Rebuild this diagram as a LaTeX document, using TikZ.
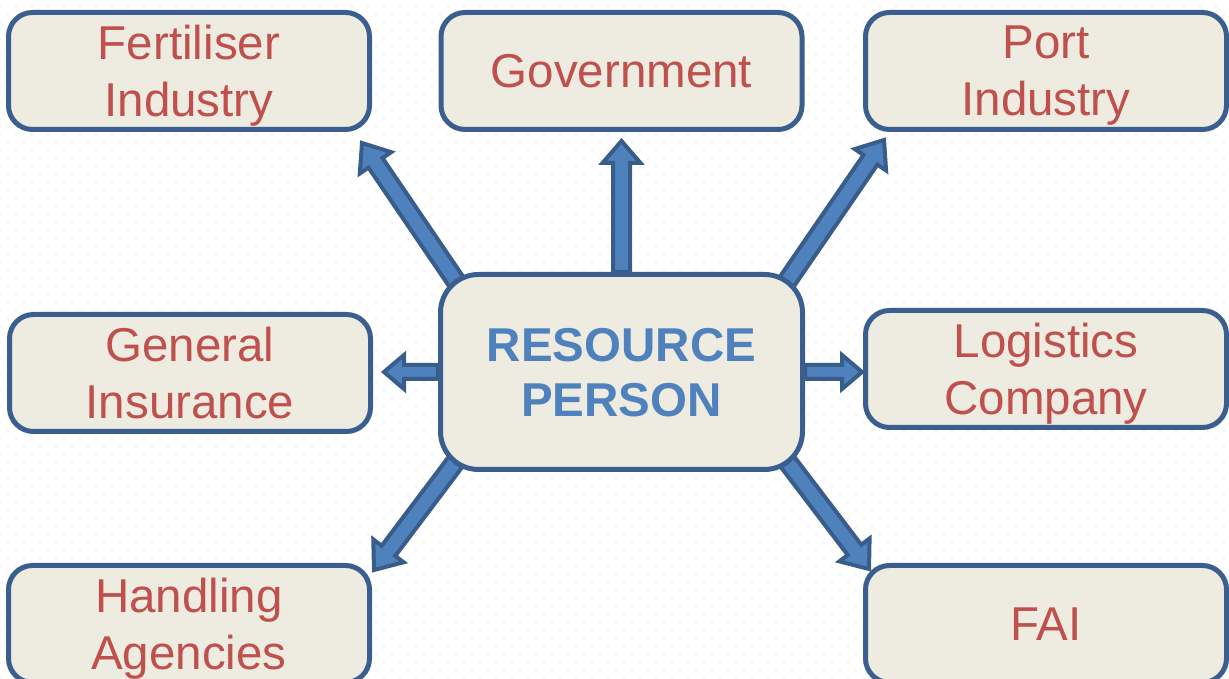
\documentclass[tikz,border=0pt]{standalone}
\usepackage{fontspec}
\setmainfont{Liberation Sans}
\usetikzlibrary{calc,backgrounds,patterns.meta}

\definecolor{boxline}{HTML}{3A5F8F}
\definecolor{boxfill}{HTML}{EEEBE0}
\definecolor{boxtext}{HTML}{C0504D}
\definecolor{midtext}{HTML}{4F81BD}
\definecolor{arrfill}{HTML}{4F81BD}
\definecolor{arrline}{HTML}{385D8A}
\definecolor{dotcol}{HTML}{E9E7DC}

\tikzdeclarepattern{
  name=bgdots,
  type=uncolored,
  bounding box={(-1pt,-1pt) and (15pt,15pt)},
  tile size={(16pt,16pt)},
  code={\fill (0pt,0pt) circle (0.9pt); \fill (8pt,8pt) circle (0.9pt);}
}

% block arrow: tail, tip, shaft half width, head half width, head length
\newcommand\blockarrow[5]{%
  \path (#1) coordinate (A) (#2) coordinate (B);
  \path ($(B)!#5!(A)$) coordinate (C);
  \draw[blockarr]
    ($(A)!#3!90:(B)$) -- ($(C)!#3!-90:(A)$) -- ($(C)!#4!-90:(A)$) -- (B)
    -- ($(C)!#4!90:(A)$) -- ($(C)!#3!90:(A)$) -- ($(A)!#3!-90:(B)$) -- cycle;
}

\begin{document}
\begin{tikzpicture}[x=1pt,y=1pt,
    sidebox/.style={draw=boxline, fill=boxfill, line width=5pt,
        rounded corners=24pt, minimum width=361pt, minimum height=117pt,
        align=center, text=boxtext, text depth=0pt,
        font=\fontsize{47.5}{57}\selectfont},
    centrebox/.style={sidebox, rounded corners=38pt, minimum width=362pt,
        minimum height=195pt, text=midtext,
        font=\fontsize{47.5}{55}\selectfont\bfseries},
    blockarr/.style={fill=arrfill, draw=arrline, line width=4pt,
        line join=miter}]

\useasboundingbox (0,0) rectangle (1229,679);
\clip (0,0) rectangle (1229,679);

% the boxes
\node[centrebox] (rp) at (621.5,307) {RESOURCE\\PERSON};

\node[sidebox] (fert) at (189,608) {Fertiliser\\Industry};
\node[sidebox] (gov)  at (621.5,608) {Government};
\node[sidebox] (port) at (1046,608) {Port\\Industry};

\node[sidebox] (ins) at (190,306) {General\\Insurance};
\node[sidebox] (log) at (1046,310) {Logistics\\Company};

\node[sidebox] (hand) at (189,55) {Handling\\Agencies};
\node[sidebox] (fai)  at (1046,55) {FAI};

% the arrows, under the boxes
\begin{scope}[on background layer]
\fill[pattern=bgdots, pattern color=dotcol] (0,0) rectangle (1229,679);
\blockarrow{rp.north}{$(gov.south)+(0,-9)$}{8.5pt}{19pt}{22pt}
\blockarrow{rp.west}{$(ins.east |- rp.west)+(11,0)$}{7pt}{17pt}{20pt}
\blockarrow{rp.east}{$(log.west |- rp.east)+(-1,0)$}{7pt}{17pt}{20pt}

\blockarrow{$(rp.north west)+(28,-24)$}{$(fert.south east)+(-10,-11)$}{8.5pt}{19pt}{24pt}
\blockarrow{$(rp.north east)+(-28,-24)$}{$(port.south west)+(21,-8)$}{8.5pt}{19pt}{24pt}
\blockarrow{$(rp.south west)+(28,24)$}{$(hand.north east)+(2,-7)$}{8.5pt}{19pt}{24pt}
\blockarrow{$(rp.south east)+(-28,24)$}{$(fai.north west)+(6,-6)$}{8.5pt}{19pt}{24pt}
\end{scope}

\end{tikzpicture}
\end{document}
